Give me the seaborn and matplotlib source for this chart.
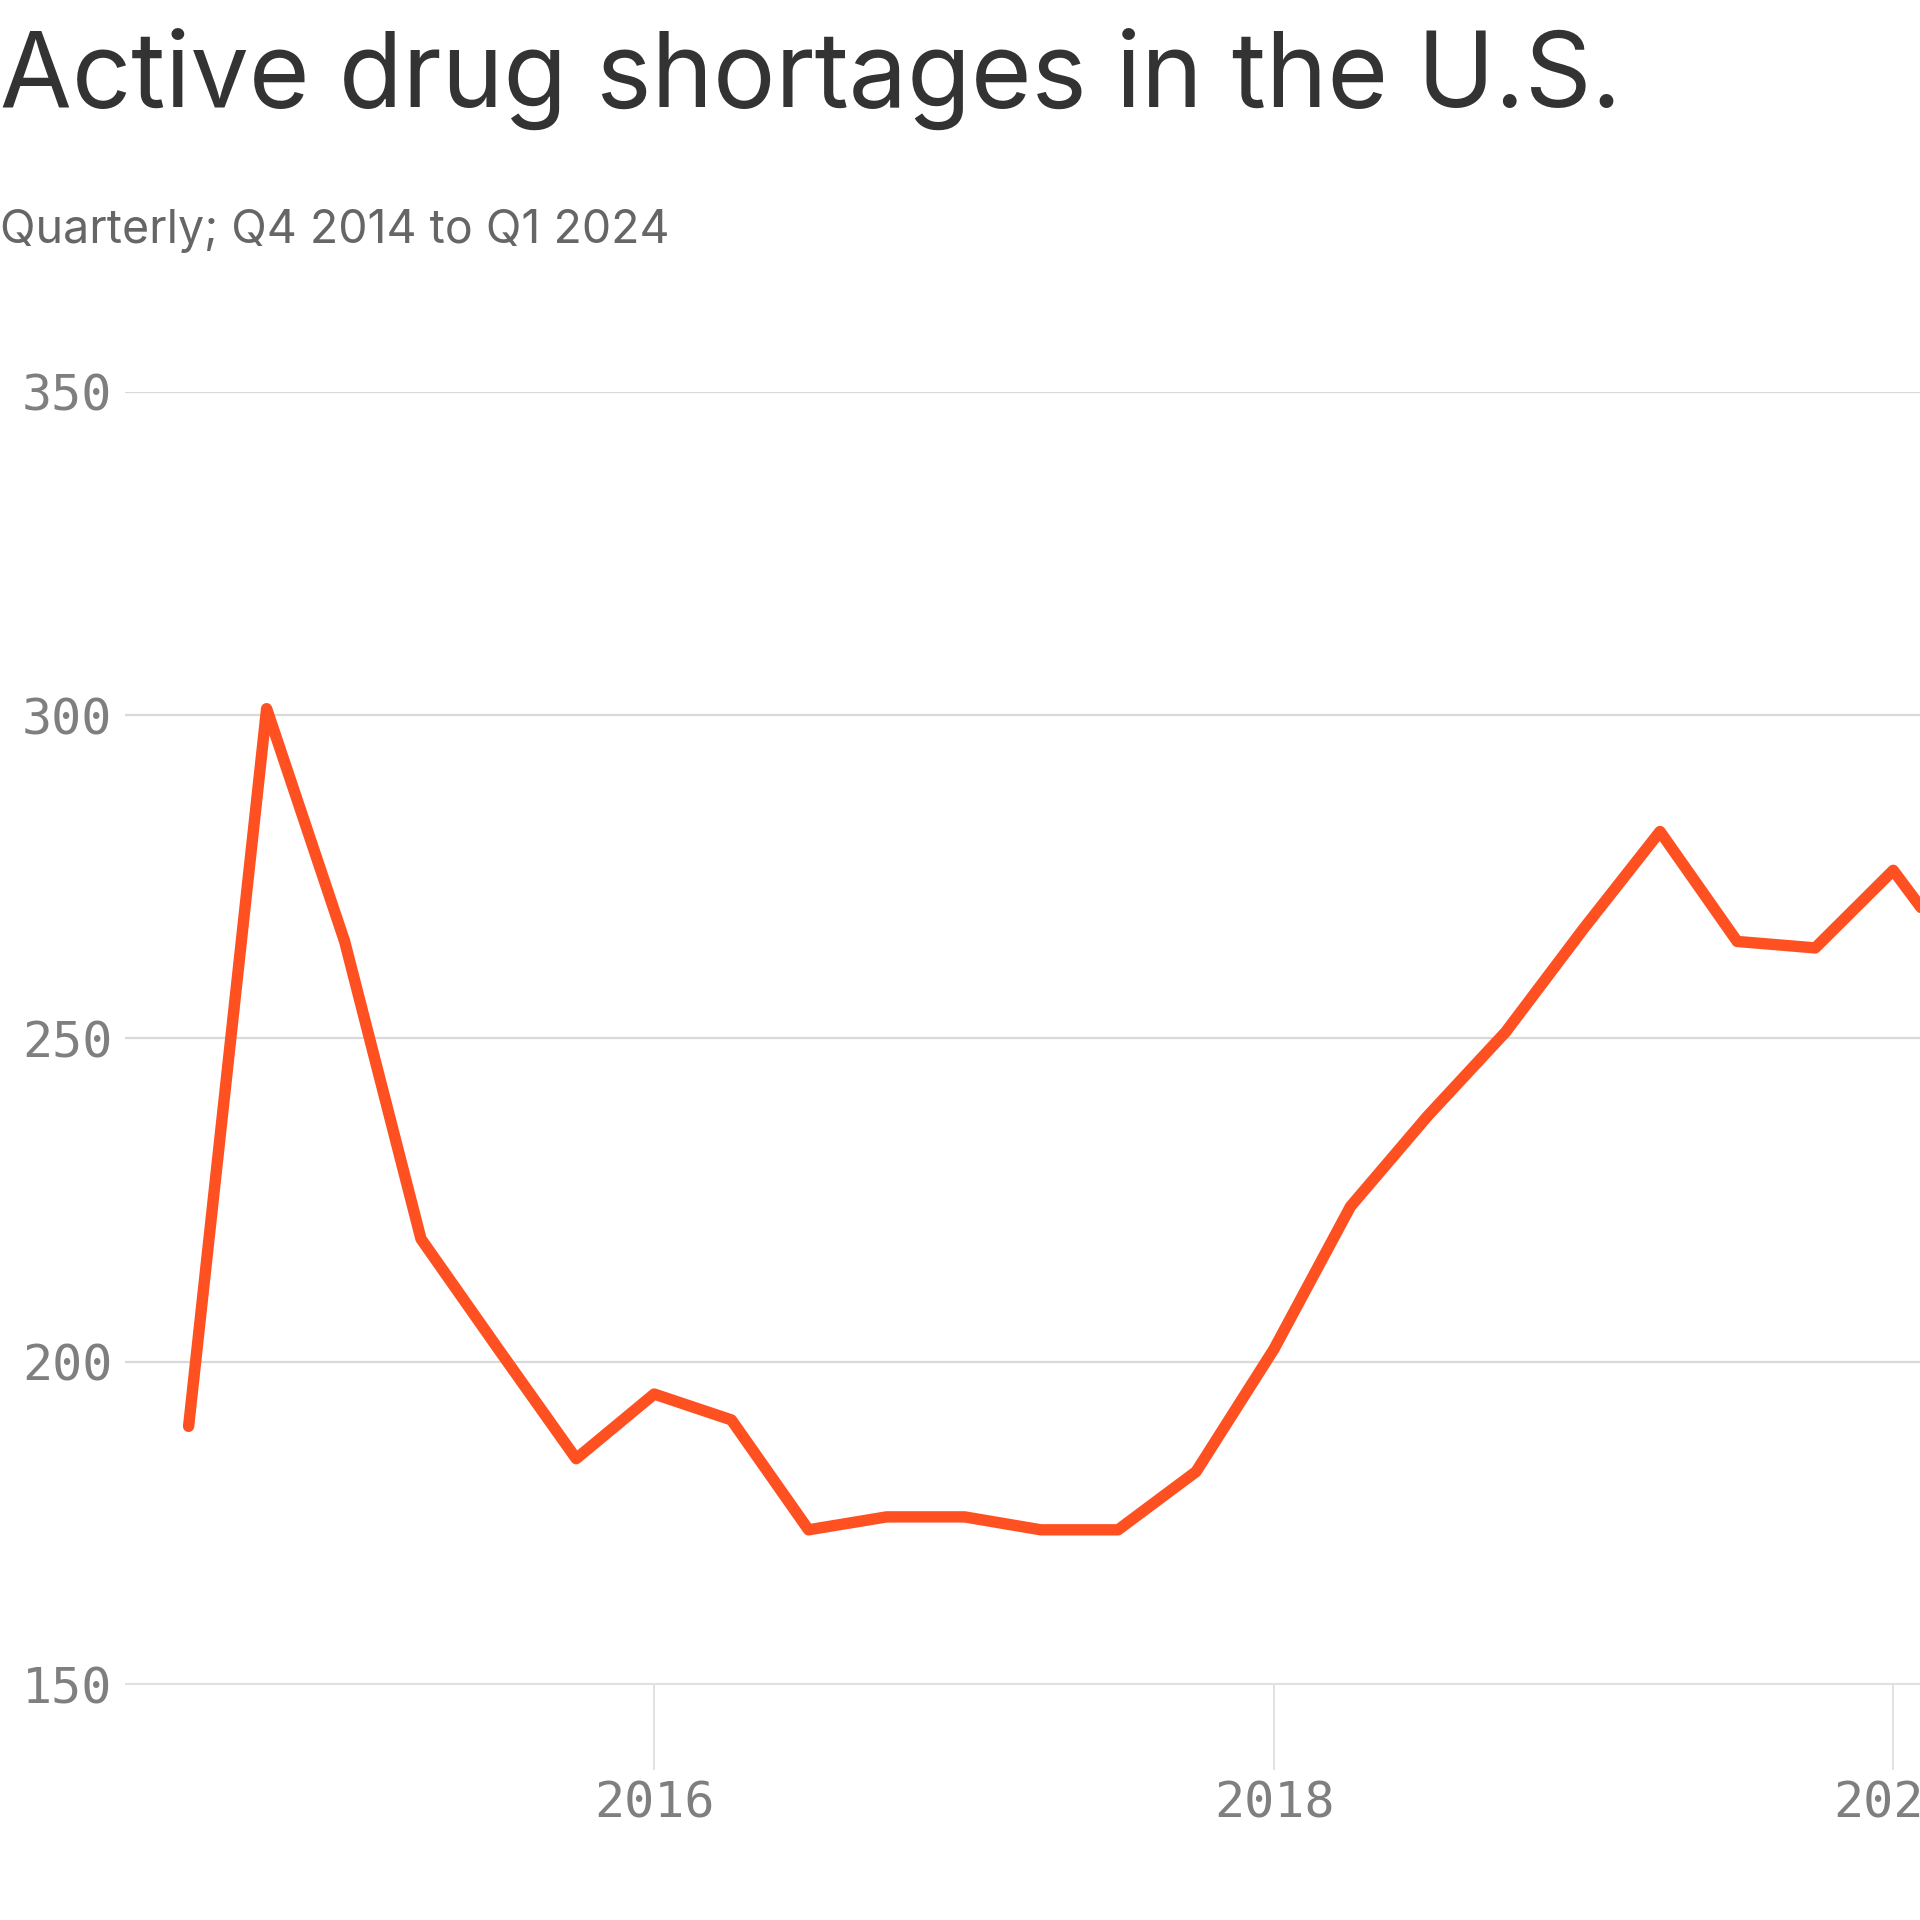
import numpy as np
import pandas as pd
import matplotlib
matplotlib.use('AGG')
import matplotlib.pyplot as plt
import matplotlib.dates as mdates
import seaborn as sns

# Data: active drug shortages per quarter
quarters = ["Q4 2014", "Q1 2015", "Q2 2015", "Q3 2015", "Q4 2015",
            "Q1 2016", "Q2 2016", "Q3 2016", "Q4 2016",
            "Q1 2017", "Q2 2017", "Q3 2017", "Q4 2017",
            "Q1 2018", "Q2 2018", "Q3 2018", "Q4 2018",
            "Q1 2019", "Q2 2019", "Q3 2019", "Q4 2019",
            "Q1 2020", "Q2 2020", "Q3 2020", "Q4 2020",
            "Q1 2021", "Q2 2021", "Q3 2021", "Q4 2021",
            "Q1 2022", "Q2 2022", "Q3 2022", "Q4 2022",
            "Q1 2023", "Q2 2023", "Q3 2023", "Q4 2023",
            "Q1 2024"]
shortages = [190, 301, 265, 219, 202, 185, 195, 191, 174,
             176, 176, 174, 174, 183, 202, 224, 238, 251,
             267, 282, 265, 264, 276, 260, 250, 243, 245,
             253, 241, 232, 224, 230, 250, 265, 295, 301,
             309, 323]

# the chart places the first quarter at mid-2014
dates = pd.date_range("2014-07-01", periods=len(shortages), freq="QS")
df = pd.DataFrame({"date": dates, "shortages": shortages})

# ==============================================================================
#                                                                          STYLE
# ==============================================================================
sns.set_style("white")
plt.rcParams['font.family'] = ['Inter', 'DejaVu Sans']

LINE_COLOR = "#FF5021"
GRID_COLOR = "#d9d9d9"
TICK_COLOR = "#7f7f7f"

fig = plt.figure(figsize=(19.2, 19.2), dpi=100)

# axes run past the right edge of the figure (chart is cropped there)
ax = fig.add_axes([0.0651, 0.1224, 1.5663, 0.6735])

sns.lineplot(data=df, x="date", y="shortages", ax=ax, color=LINE_COLOR,
             linewidth=8.2, solid_joinstyle="round", solid_capstyle="round",
             clip_on=False)

ax.set_xlim(pd.Timestamp("2014-04-17"), pd.Timestamp("2024-01-01"))
ax.set_ylim(150, 350)

# Grid lines
ax.set_yticks([150, 200, 250, 300, 350])
for v in [200, 250, 300, 350]:
    ax.axhline(v, color=GRID_COLOR, lw=1.6, zorder=0)
ax.axhline(150, color="#e0e0e0", lw=3.0, zorder=0)

# Ticks
ax.xaxis.set_major_locator(mdates.YearLocator(2))
ax.xaxis.set_major_formatter(mdates.DateFormatter("%Y"))
ax.tick_params(axis="x", bottom=True, direction="out", length=61, width=1.2,
               color="#dcdcdc", pad=7, labelsize=36, labelcolor=TICK_COLOR)
ax.tick_params(axis="y", left=False, length=0, pad=9, labelsize=36,
               labelcolor=TICK_COLOR)
for lab in ax.get_xticklabels() + ax.get_yticklabels():
    lab.set_family("DejaVu Sans Mono")

for s in ax.spines.values():
    s.set_visible(False)
ax.set_xlabel("")
ax.set_ylabel("")

# Title + subtitle
fig.text(0.0, 0.9443, "Active drug shortages in the U.S.", fontsize=75,
         color="#333333", ha="left", va="baseline")
fig.text(0.0, 0.8734, "Quarterly; Q4 2014 to Q1 2024", fontsize=33.5,
         color="#666666", ha="left", va="baseline")

fig.savefig("out.png", dpi=100)
plt.close()
